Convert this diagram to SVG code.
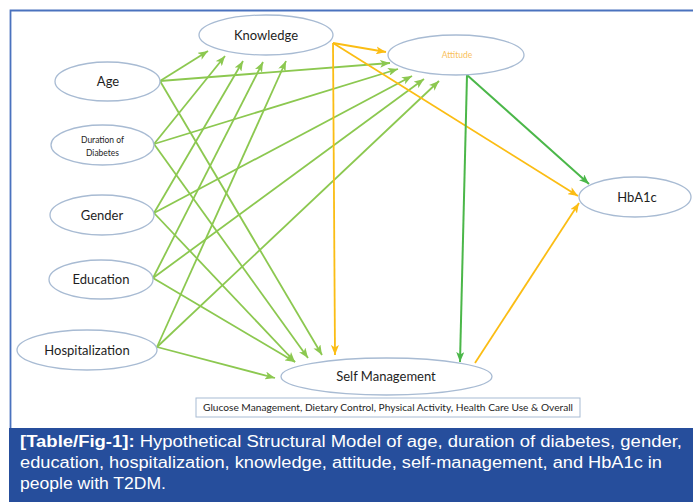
<svg xmlns="http://www.w3.org/2000/svg" width="693" height="502" viewBox="0 0 693 502">
  <style>
    .node { fill: #ffffff; stroke: #a8bbd3; stroke-width: 1.3; }
    .lbl { font-family: Lato, "Open Sans", "Liberation Sans", sans-serif; fill: #1e1e1e; text-anchor: middle; }
    .big { font-size: 13px; }
    .small { font-size: 8.5px; }
    .lg { stroke: #8cc850; stroke-width: 1.8; fill: none; marker-end: url(#ahLight); }
    .dg { stroke: #4bb749; stroke-width: 2; fill: none; marker-end: url(#ahDark); }
    .yl { stroke: #fbbd14; stroke-width: 1.8; fill: none; marker-end: url(#ahYellow); }
    .cap { font-family: "Liberation Sans", Arial, sans-serif; font-size: 16px; fill: #ffffff; }
  </style>
  <defs>
    <marker id="ahLight" viewBox="0 0 10 8" refX="10" refY="4" markerWidth="10" markerHeight="8" markerUnits="userSpaceOnUse" orient="auto">
      <path d="M0,0 L10,4 L0,8 L2.5,4 z" fill="#8cc850"/>
    </marker>
    <marker id="ahDark" viewBox="0 0 10 8" refX="10" refY="4" markerWidth="10" markerHeight="8" markerUnits="userSpaceOnUse" orient="auto">
      <path d="M0,0 L10,4 L0,8 L2.5,4 z" fill="#4bb749"/>
    </marker>
    <marker id="ahYellow" viewBox="0 0 10 8" refX="10" refY="4" markerWidth="10" markerHeight="8" markerUnits="userSpaceOnUse" orient="auto">
      <path d="M0,0 L10,4 L0,8 L2.5,4 z" fill="#fbbd14"/>
    </marker>
  </defs>

  <rect width="693" height="502" fill="#ffffff"/>

  <!-- figure frame -->
  <path d="M10.5,428 V10.5 H693" fill="none" stroke="#4a72be" stroke-width="1.8"/>

  <!-- connectors -->
  <g id="connectors">
    <!-- Age -->
    <line class="lg" x1="160" y1="81" x2="208" y2="51"/>
    <line class="lg" x1="160" y1="81" x2="390" y2="63"/>
    <line class="lg" x1="160" y1="81" x2="322" y2="355"/>
    <!-- Duration of Diabetes -->
    <line class="lg" x1="154" y1="144" x2="225" y2="56"/>
    <line class="lg" x1="154" y1="144" x2="398" y2="69"/>
    <line class="lg" x1="154" y1="144" x2="308" y2="358"/>
    <!-- Gender -->
    <line class="lg" x1="154" y1="213" x2="243" y2="61"/>
    <line class="lg" x1="154" y1="213" x2="412" y2="76"/>
    <line class="lg" x1="154" y1="213" x2="295" y2="362"/>
    <!-- Education -->
    <line class="lg" x1="153" y1="278" x2="263" y2="62"/>
    <line class="lg" x1="153" y1="278" x2="424" y2="79"/>
    <line class="lg" x1="153" y1="278" x2="295" y2="362"/>
    <!-- Hospitalization -->
    <line class="lg" x1="157" y1="347" x2="286" y2="61"/>
    <line class="lg" x1="157" y1="347" x2="439" y2="81"/>
    <line class="lg" x1="157" y1="347" x2="275" y2="378"/>
    <!-- Knowledge -->
    <line class="yl" x1="333" y1="43" x2="386" y2="52"/>
    <line class="yl" x1="333" y1="43" x2="578" y2="196"/>
    <line class="yl" x1="333" y1="43" x2="335" y2="355"/>
    <!-- Attitude -->
    <line class="dg" x1="467" y1="75" x2="589" y2="184"/>
    <line class="dg" x1="467" y1="75" x2="460" y2="362"/>
    <!-- Self Management -->
    <line class="yl" x1="475" y1="363" x2="579" y2="203"/>
  </g>

  <!-- nodes -->
  <g id="knowledge">
    <ellipse class="node" cx="266" cy="35" rx="67" ry="20"/>
    <text class="lbl big" x="266" y="40">Knowledge</text>
  </g>
  <g id="attitude">
    <ellipse class="node" cx="456" cy="55" rx="68" ry="20"/>
    <text class="lbl small" x="457" y="58" font-size="9" style="fill:#f9bf5c">Attitude</text>
  </g>
  <g id="age">
    <ellipse class="node" cx="107.5" cy="81.5" rx="52.5" ry="19.5"/>
    <text class="lbl big" x="108" y="86">Age</text>
  </g>
  <g id="duration">
    <ellipse class="node" cx="102.5" cy="145" rx="51.5" ry="20"/>
    <text class="lbl small" x="102.5" y="143">Duration of</text>
    <text class="lbl small" x="102.5" y="156">Diabetes</text>
  </g>
  <g id="gender">
    <ellipse class="node" cx="102" cy="215" rx="52" ry="20"/>
    <text class="lbl big" x="102" y="220">Gender</text>
  </g>
  <g id="education">
    <ellipse class="node" cx="101" cy="279.5" rx="52" ry="19.5"/>
    <text class="lbl big" x="101" y="284">Education</text>
  </g>
  <g id="hospitalization">
    <ellipse class="node" cx="87" cy="350" rx="70" ry="20"/>
    <text class="lbl big" x="87" y="355">Hospitalization</text>
  </g>
  <g id="hba1c">
    <ellipse class="node" cx="635" cy="197" rx="56" ry="20"/>
    <text class="lbl big" x="637" y="202">HbA1c</text>
  </g>
  <g id="self-management">
    <ellipse class="node" cx="386.5" cy="376.5" rx="105.5" ry="18.5"/>
    <text class="lbl big" x="386" y="381">Self Management</text>
  </g>
  <g id="sm-components">
    <rect x="196" y="398" width="384" height="19" fill="#ffffff" stroke="#a8bbd3" stroke-width="1"/>
    <text class="lbl" x="388" y="411" font-size="10" textLength="370" lengthAdjust="spacingAndGlyphs">Glucose Management, Dietary Control, Physical Activity, Health Care Use &amp; Overall</text>
  </g>

  <!-- caption -->
  <g id="caption">
    <rect x="9" y="428" width="684" height="74" fill="#264e9c"/>
    <text class="cap" x="20" y="447" textLength="662" lengthAdjust="spacingAndGlyphs"><tspan font-weight="bold">[Table/Fig-1]:</tspan> Hypothetical Structural Model of age, duration of diabetes, gender,</text>
    <text class="cap" x="20" y="468" textLength="642" lengthAdjust="spacingAndGlyphs">education, hospitalization, knowledge, attitude, self-management, and HbA1c in</text>
    <text class="cap" x="20" y="489" textLength="146" lengthAdjust="spacingAndGlyphs">people with T2DM.</text>
  </g>
</svg>
